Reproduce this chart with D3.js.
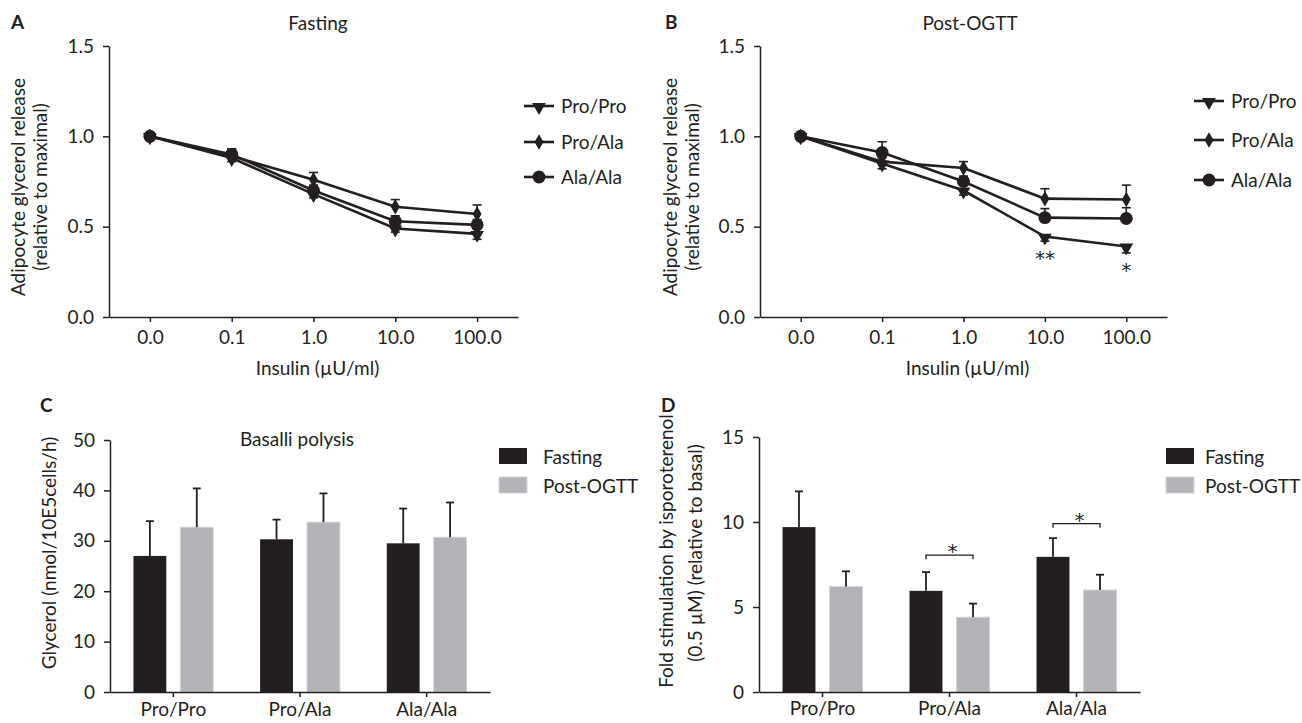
<!DOCTYPE html>
<html><head><meta charset="utf-8">
<script src="https://cdn.jsdelivr.net/npm/d3@7"></script>
<style>
body{margin:0;background:#fff}
svg{display:block}
text{font-family:Lato,"Open Sans",sans-serif;fill:#231f20}
</style>
</head><body>
<svg id="chart" width="1302" height="723"></svg>
<script>
// ---------- data ----------
const doses = ["0.0", "0.1", "1.0", "10.0", "100.0"];
const genotypes = ["Pro/Pro", "Pro/Ala", "Ala/Ala"];
const conditions = ["Fasting", "Post-OGTT"];
const lineTicks = [0, 0.5, 1.0, 1.5];
const basalTicks = [0, 10, 20, 30, 40, 50];
const isoTicks = [0, 5, 10, 15];

// Panel A: Fasting
const fastingProPro = [1.00, 0.88, 0.68, 0.49, 0.46];
const fastingProProErr = [0.02, 0.02, 0.02, 0.02, 0.03];
const fastingProAla = [1.00, 0.89, 0.76, 0.61, 0.57];
const fastingProAlaErr = [0.02, 0.04, 0.04, 0.04, 0.05];
const fastingAlaAla = [1.00, 0.90, 0.70, 0.53, 0.51];
const fastingAlaAlaErr = [0.02, 0.03, 0.03, 0.03, 0.03];

// Panel B: Post-OGTT
const postProPro = [1.00, 0.85, 0.70, 0.445, 0.39];
const postProProErr = [0.02, 0.03, 0.025, 0.025, 0.035];
const postProAla = [1.00, 0.86, 0.825, 0.655, 0.65];
const postProAlaErr = [0.02, 0.02, 0.035, 0.055, 0.08];
const postAlaAla = [1.00, 0.91, 0.75, 0.55, 0.545];
const postAlaAlaErr = [0.02, 0.06, 0.03, 0.05, 0.06];
const postSigLabels = ["", "", "", "**", "*"];

// Panel C: basal lipolysis
const basalFasting = [27.0, 30.3, 29.5];
const basalFastingErr = [6.9, 3.9, 6.9];
const basalPost = [32.7, 33.7, 30.7];
const basalPostErr = [7.7, 5.7, 6.9];

// Panel D: isoproterenol stimulation
const isoFasting = [9.7, 5.95, 7.95];
const isoFastingErr = [2.1, 1.1, 1.1];
const isoPost = [6.2, 4.4, 6.0];
const isoPostErr = [0.9, 0.8, 0.9];
const isoSigBracket = [null, 8.05, 9.9];
const isoSigLabels = ["", "*", "*"];

// ---------- drawing ----------
const INK = "#231f20";
const GREY = "#b2b3b6";
const FS = 19;
const STAR_FONT = "'DejaVu Sans', sans-serif";
const svg = d3.select("#chart");

function styleAxis(g) {
  g.selectAll("path.domain").attr("stroke", INK).attr("stroke-width", 1.5);
  g.selectAll(".tick line").attr("stroke", INK).attr("stroke-width", 1.5);
  g.selectAll(".tick text").attr("font-size", FS).attr("fill", INK);
}

function symbolPath(kind) {
  if (kind === "tri") return d3.symbol().type(d3.symbolTriangle).size(82)();
  if (kind === "dia") return d3.symbol().type(d3.symbolDiamond).size(70)();
  return d3.symbol().type(d3.symbolCircle).size(132)();
}
function drawMarker(g, kind, x, y) {
  const p = g.append("path").attr("d", symbolPath(kind)).attr("fill", INK);
  if (kind === "tri") p.attr("transform", `translate(${x},${y + 1}) rotate(180)`);
  else p.attr("transform", `translate(${x},${y})`);
}

function linePanel(o) {
  const x = d3.scalePoint().domain(doses).range([o.x0, o.x1]).padding(0.5);
  const y = d3.scaleLinear().domain([0, 1.5]).range([317, 46]);
  const g = svg.append("g");
  g.append("g").attr("transform", "translate(0,317)")
    .call(d3.axisBottom(x).tickSize(5).tickSizeOuter(0).tickPadding(9))
    .call(styleAxis);
  g.append("g").attr("transform", `translate(${o.x0},0)`)
    .call(d3.axisLeft(y).tickValues(lineTicks).tickFormat(d3.format(".1f")).tickSize(6).tickSizeOuter(0).tickPadding(9))
    .call(styleAxis);

  const line = d3.line().x((d, i) => x(doses[i])).y(d => y(d));
  o.series.forEach(s => {
    g.append("path").datum(s.vals).attr("d", line)
      .attr("fill", "none").attr("stroke", INK).attr("stroke-width", 2.6);
  });
  o.series.forEach(s => {
    s.vals.forEach((v, i) => {
      const cx = x(doses[i]);
      const end = s.dir < 0 ? v - s.err[i] : v + s.err[i];
      g.append("line").attr("x1", cx).attr("x2", cx).attr("y1", y(v)).attr("y2", y(end))
        .attr("stroke", INK).attr("stroke-width", 1.6);
      g.append("line").attr("x1", cx - 4.5).attr("x2", cx + 4.5).attr("y1", y(end)).attr("y2", y(end))
        .attr("stroke", INK).attr("stroke-width", 1.6);
    });
  });
  o.series.forEach(s => {
    s.vals.forEach((v, i) => drawMarker(g, s.kind, x(doses[i]), y(v)));
  });
  // legend
  o.series.forEach((s, i) => {
    const ly = o.legRows[i];
    g.append("line").attr("x1", o.legX).attr("x2", o.legX + 30).attr("y1", ly).attr("y2", ly)
      .attr("stroke", INK).attr("stroke-width", 2.6);
    drawMarker(g, s.kind, o.legX + 15, ly);
    g.append("text").attr("x", o.legX + 37).attr("y", ly + 6.5).attr("font-size", FS).text(s.name);
  });
  // significance
  if (o.sig) {
    o.sig.forEach((lab, i) => {
      if (!lab) return;
      const s = o.series[0];
      const v = s.vals[i] - s.err[i];
      g.append("text").attr("x", x(doses[i])).attr("y", y(v) + 24).attr("text-anchor", "middle")
        .style("font-family", STAR_FONT).attr("font-size", 20).text(lab);
    });
  }
  // title, panel letter, axis labels
  g.append("text").attr("x", o.titleX).attr("y", 30).attr("text-anchor", "middle").attr("font-size", FS).text(o.title);
  g.append("text").attr("x", o.letterX).attr("y", 29).attr("font-size", FS).attr("font-weight", "bold").text(o.letter);
  g.append("text").attr("x", (o.x0 + o.x1) / 2 + 4).attr("y", 375).attr("text-anchor", "middle").attr("font-size", FS)
    .text("Insulin (\u00b5U/ml)");
  g.append("text").attr("transform", `translate(${o.labX1},187) rotate(-90)`).attr("text-anchor", "middle")
    .attr("font-size", FS).text("Adipocyte glycerol release");
  g.append("text").attr("transform", `translate(${o.labX2},187) rotate(-90)`).attr("text-anchor", "middle")
    .attr("font-size", FS).text("(relative to maximal)");
}

function barPanel(o) {
  const x = d3.scaleBand().domain(genotypes).range([o.x0, o.x1]).padding(0);
  const x1 = d3.scaleBand().domain(conditions).range([0, x.bandwidth()]).paddingInner(0.3).paddingOuter(0.5);
  const y = d3.scaleLinear().domain(o.domain).range([692, o.yTop]);
  const g = svg.append("g");
  const groups = [
    {cond: "Fasting", vals: o.fast, err: o.fastErr, fill: INK, stroke: "none"},
    {cond: "Post-OGTT", vals: o.post, err: o.postErr, fill: GREY, stroke: "#d2d3d5"}
  ];
  groups.forEach(gr => {
    gr.vals.forEach((v, i) => {
      const bx = x(genotypes[i]) + x1(gr.cond);
      g.append("rect").attr("x", bx).attr("width", x1.bandwidth()).attr("y", y(v)).attr("height", y(0) - y(v))
        .attr("fill", gr.fill).attr("stroke", gr.stroke).attr("stroke-width", 1);
      const cx = bx + x1.bandwidth() / 2;
      const top = y(v + gr.err[i]);
      g.append("line").attr("x1", cx).attr("x2", cx).attr("y1", y(v)).attr("y2", top).attr("stroke", INK).attr("stroke-width", 1.8);
      g.append("line").attr("x1", cx - 4).attr("x2", cx + 4).attr("y1", top).attr("y2", top).attr("stroke", INK).attr("stroke-width", 1.8);
    });
  });
  g.append("g").attr("transform", "translate(0,692)")
    .call(d3.axisBottom(x).tickSize(5).tickSizeOuter(0).tickPadding(o.catPad))
    .call(styleAxis);
  g.append("g").attr("transform", `translate(${o.x0},0)`)
    .call(d3.axisLeft(y).tickValues(o.ticks).tickSize(6).tickSizeOuter(0).tickPadding(9))
    .call(styleAxis);
  // significance brackets
  if (o.bracket) {
    o.bracket.forEach((b, i) => {
      if (b == null) return;
      const xa = x(genotypes[i]) + x1("Fasting") + x1.bandwidth() / 2;
      const xb = x(genotypes[i]) + x1("Post-OGTT") + x1.bandwidth() / 2;
      const yy = y(b);
      g.append("path").attr("d", `M${xa},${yy + 4}V${yy}H${xb}V${yy + 4}`)
        .attr("fill", "none").attr("stroke", INK).attr("stroke-width", 1.3);
      g.append("text").attr("x", (xa + xb) / 2 + 3).attr("y", yy + 3).attr("text-anchor", "middle")
        .style("font-family", STAR_FONT).attr("font-size", 20).text(o.sigLabels[i]);
    });
  }
  // legend
  groups.forEach((gr, i) => {
    const ly = 448 + i * 29;
    g.append("rect").attr("x", o.legX).attr("y", ly).attr("width", 28).attr("height", 16)
      .attr("fill", gr.fill).attr("stroke", gr.stroke);
    g.append("text").attr("x", o.legX + o.legText).attr("y", ly + 16).attr("font-size", FS).text(gr.cond);
  });
  if (o.title) g.append("text").attr("x", o.titleX).attr("y", 446).attr("text-anchor", "middle").attr("font-size", FS).text(o.title);
  g.append("text").attr("x", o.letterX).attr("y", 412).attr("font-size", FS).attr("font-weight", "bold").text(o.letter);
  o.labels.forEach(l => {
    g.append("text").attr("transform", `translate(${l.x},${l.y}) rotate(-90)`).attr("text-anchor", "middle")
      .attr("font-size", FS).text(l.t);
  });
}

linePanel({
  x0: 109, x1: 518, title: "Fasting", titleX: 318, letter: "A", letterX: 11,
  labX1: 25, labX2: 47, legX: 524, legRows: [106, 142, 177],
  series: [
    {name: "Pro/Pro", kind: "tri", vals: fastingProPro, err: fastingProProErr, dir: -1},
    {name: "Pro/Ala", kind: "dia", vals: fastingProAla, err: fastingProAlaErr, dir: 1},
    {name: "Ala/Ala", kind: "circ", vals: fastingAlaAla, err: fastingAlaAlaErr, dir: 1}
  ]
});
linePanel({
  x0: 760, x1: 1167, title: "Post-OGTT", titleX: 970, letter: "B", letterX: 665,
  labX1: 677, labX2: 699, legX: 1194, legRows: [101, 140, 180], sig: postSigLabels,
  series: [
    {name: "Pro/Pro", kind: "tri", vals: postProPro, err: postProProErr, dir: -1},
    {name: "Pro/Ala", kind: "dia", vals: postProAla, err: postProAlaErr, dir: 1},
    {name: "Ala/Ala", kind: "circ", vals: postAlaAla, err: postAlaAlaErr, dir: 1}
  ]
});
barPanel({
  x0: 110, x1: 490, domain: [0, 50], yTop: 440, ticks: basalTicks,
  fast: basalFasting, fastErr: basalFastingErr, post: basalPost, postErr: basalPostErr,
  legX: 499, legText: 44, title: "Basalli polysis", titleX: 297, letter: "C", letterX: 40, catPad: 6,
  labels: [{x: 56, y: 553, t: "Glycerol (nmol/10E5cells/h)"}]
});
barPanel({
  x0: 759, x1: 1140, domain: [0, 15], yTop: 437, ticks: isoTicks,
  fast: isoFasting, fastErr: isoFastingErr, post: isoPost, postErr: isoPostErr,
  bracket: isoSigBracket, sigLabels: isoSigLabels,
  legX: 1166, legText: 39, title: null, letter: "D", letterX: 661, catPad: 5,
  labels: [{x: 673, y: 551, t: "Fold stimulation by isporoterenol"}, {x: 702, y: 553, t: "(0.5 \u00b5M) (relative to basal)"}]
});
</script>
</body></html>
